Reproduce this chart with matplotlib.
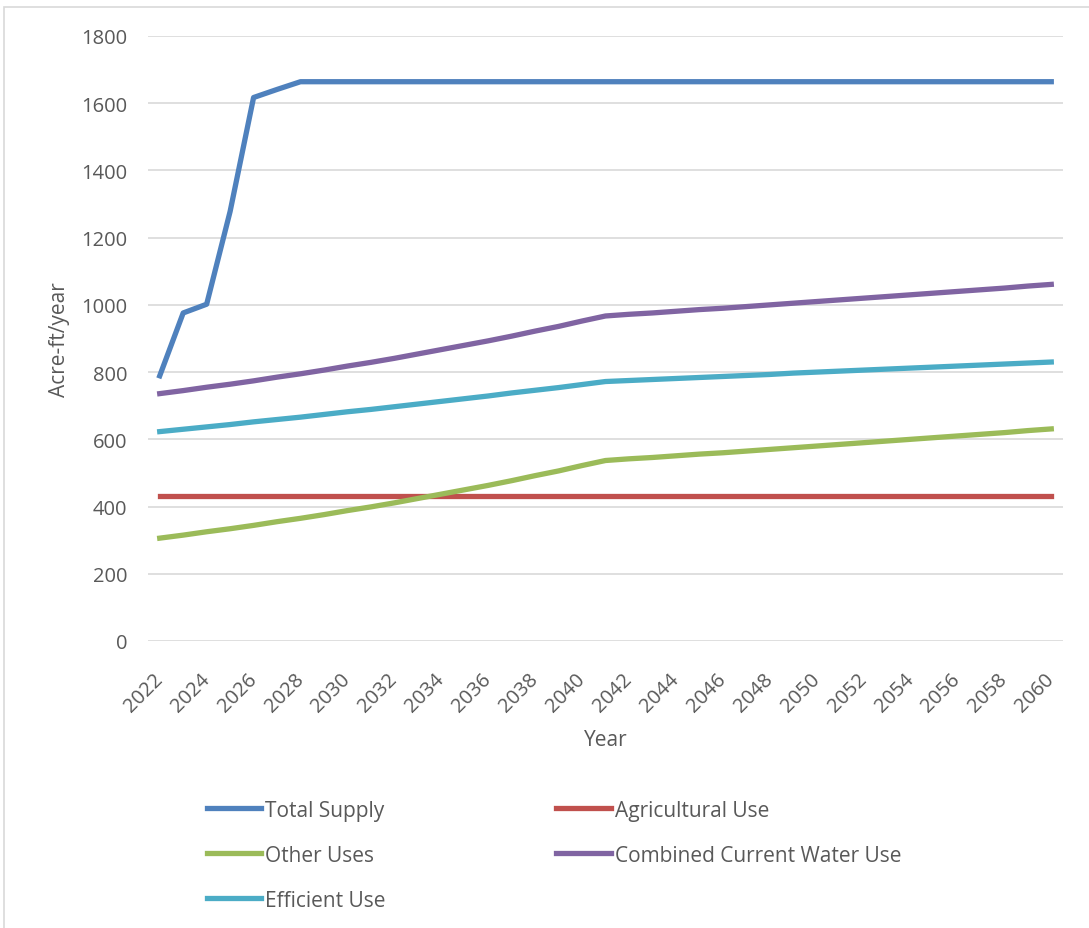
import matplotlib.pyplot as plt
from matplotlib.patches import Rectangle

plt.rcParams['font.family'] = ['Open Sans', 'DejaVu Sans']

# Data (acre-ft/year)
years = list(range(2022, 2061))
total_supply = [789, 976, 1002, 1278, 1617, 1641, 1664, 1664, 1664, 1664,
                1664, 1664, 1664, 1664, 1664, 1664, 1664, 1664, 1664, 1664,
                1664, 1664, 1664, 1664, 1664, 1664, 1664, 1664, 1664, 1664,
                1664, 1664, 1664, 1664, 1664, 1664, 1664, 1664, 1664]
agricultural = [430] * 39
other_uses = [306, 315, 325, 334, 344, 355, 365, 376, 388, 399,
              411, 424, 437, 450, 463, 477, 492, 506, 522, 537,
              542, 546, 551, 556, 560, 565, 570, 575, 580, 585,
              590, 595, 600, 605, 610, 615, 620, 626, 631]
combined = [736, 745, 755, 764, 774, 785, 795, 806, 818, 829,
            841, 854, 867, 880, 893, 907, 922, 936, 952, 967,
            972, 976, 981, 986, 990, 995, 1000, 1005, 1010, 1015,
            1020, 1025, 1030, 1035, 1040, 1045, 1050, 1056, 1061]
efficient = [623, 630, 637, 644, 652, 659, 666, 674, 682, 689,
             697, 705, 713, 721, 729, 738, 746, 754, 763, 772,
             775, 778, 781, 784, 787, 790, 793, 797, 800, 803,
             806, 809, 812, 815, 818, 821, 824, 827, 830]

grey = '#595959'
fig = plt.figure(figsize=(10.89, 9.29), dpi=100)
ax = fig.add_axes([148 / 1089, 1 - 642 / 929, 915 / 1089, 605 / 929])

lw = 3.8
l1, = ax.plot(years, total_supply, color='#4F81BD', lw=lw, label='Total Supply')
l2, = ax.plot(years, agricultural, color='#C0504D', lw=lw, label='Agricultural Use')
l3, = ax.plot(years, other_uses, color='#9BBB59', lw=lw, label='Other Uses')
l4, = ax.plot(years, combined, color='#8064A2', lw=lw, label='Combined Current Water Use')
l5, = ax.plot(years, efficient, color='#4BACC6', lw=lw, label='Efficient Use')

ax.set_xlim(2021.5, 2060.5)
ax.set_ylim(0, 1800)
ax.set_yticks(range(0, 1801, 200))
ax.set_xticks(years[::2])
ax.set_xticklabels([str(y) for y in years[::2]], rotation=45, ha='right',
                   va='center', rotation_mode='anchor')
ax.grid(axis='y', color='#D9D9D9', lw=1.2)
ax.set_axisbelow(True)
for s in ax.spines.values():
    s.set_visible(False)
ax.tick_params(length=0, colors=grey, labelsize=14.5)
ax.tick_params(axis='x', pad=25)
ax.tick_params(axis='y', pad=15)

ax.set_ylabel('Acre-ft/year', color=grey, fontsize=15, labelpad=8)
ax.set_xlabel('Year', color=grey, fontsize=15, labelpad=10)

fig.legend([l1, l3, l5, l2, l4],
           [l.get_label() for l in (l1, l3, l5, l2, l4)],
           ncol=2, loc='upper left', bbox_to_anchor=(188 / 1089, 1 - 782 / 929),
           frameon=False, fontsize=15, labelcolor=grey,
           handlelength=2.6, handletextpad=0.2, columnspacing=8.2,
           labelspacing=1.15)

fig.patches.append(Rectangle((4 / 1089, -0.01), 1.1, 1 - 8 / 929 + 0.01,
                             transform=fig.transFigure, fill=False,
                             edgecolor='#D9D9D9', lw=1.2))

fig.savefig('out.png', dpi=100)
